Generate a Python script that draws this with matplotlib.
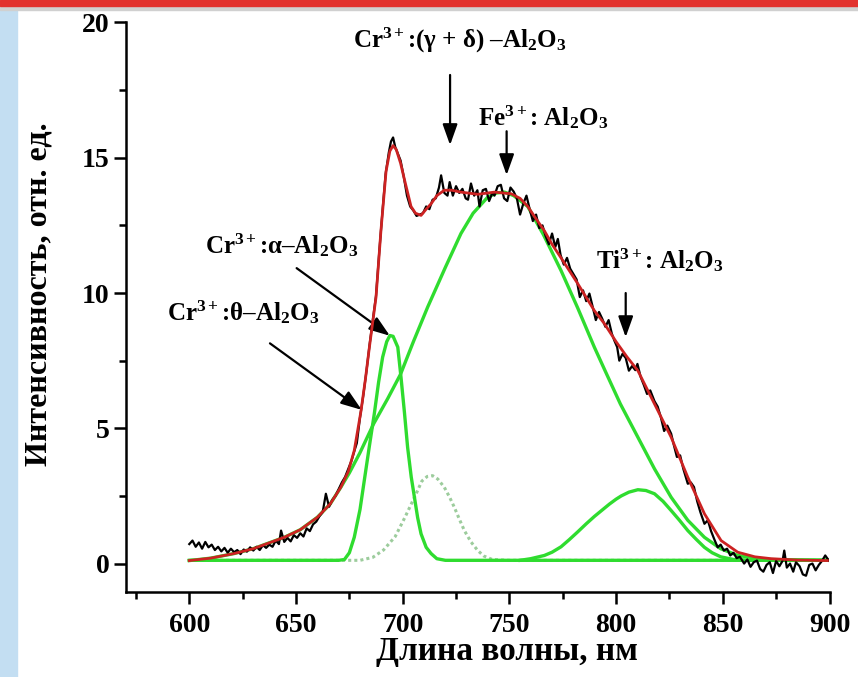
import matplotlib
matplotlib.use("Agg")
import matplotlib.pyplot as plt
from matplotlib.patches import Rectangle
from matplotlib.ticker import MultipleLocator

plt.rcParams['font.family'] = ['Liberation Serif', 'DejaVu Serif']
plt.rcParams['font.weight'] = 'bold'
plt.rcParams['mathtext.fontset'] = 'custom'
plt.rcParams['mathtext.rm'] = 'Liberation Serif:bold'
plt.rcParams['mathtext.bf'] = 'Liberation Serif:bold'
plt.rcParams['mathtext.it'] = 'Liberation Serif:bold:italic'
plt.rcParams['mathtext.default'] = 'rm'

# measured spectrum (noisy)
wl_exp = [600, 601.5, 603, 604.5, 606, 607.5, 609, 610.5, 612, 613.5, 615, 616.5, 618, 619.5,
          621, 622.5, 624, 625.5, 627, 628.5, 630, 631.5, 633, 634.5, 636, 637.5, 639, 640.5,
          642, 643, 644.5, 646, 647.5, 649, 650.5, 652, 653.5, 655, 656.5, 658, 659.5, 661,
          662.5, 664, 665.5, 667, 668.5, 670, 671.5, 673, 674.5, 676, 677.5, 678.5, 680, 681.5,
          683, 684.5, 686, 687.5, 689, 690.5, 692, 693.5, 694.5, 695.5, 696.5, 697.5, 699,
          700.5, 702, 703.5, 705, 706.5, 708, 709.5, 711, 712.5, 714, 715.5, 717, 718, 719.5,
          721, 722, 723.5, 725, 726.5, 728, 729.5, 730.6, 732, 733.5, 735, 736, 737.5, 739,
          740.5, 742, 743, 744.5, 746, 747.5, 749, 750.5, 752, 753.5, 755, 756.5, 758, 759.5,
          761, 762.5, 764, 765.5, 767, 768.5, 770, 771.5, 772.7, 774, 775.5, 777, 778.5, 780,
          781.5, 783, 784.5, 786, 787.5, 789, 790.5, 792, 793.5, 795, 796.5, 798, 799.2, 800.5,
          801.5, 803, 804.5, 806, 807.5, 809, 810, 811.5, 813, 814.5, 816, 818, 819.5, 821,
          822.5, 824, 825.8, 827, 828.5, 830, 831.5, 833.6, 835, 836.5, 838, 839.5, 841.4, 843,
          844.5, 846, 847.6, 849, 850.5, 852, 853.5, 855, 856.5, 858, 860, 861.5, 863, 864.5,
          866, 867.5, 869, 870.5, 872, 873.5, 875, 876.5, 878, 878.8, 880, 881.5, 883, 884.3,
          886, 887.5, 889, 890.5, 892, 893.5, 895, 896.5, 898, 899.7]
int_exp = [0.72, 0.85, 0.62, 0.78, 0.55, 0.8, 0.6, 0.7, 0.5, 0.62, 0.45, 0.58, 0.4, 0.55,
           0.42, 0.5, 0.35, 0.52, 0.44, 0.6, 0.48, 0.62, 0.5, 0.68, 0.58, 0.7, 0.62, 0.85,
           0.72, 1.22, 0.8, 0.95, 0.82, 1.05, 0.95, 1.12, 1.0, 1.3, 1.2, 1.45, 1.55, 1.75,
           1.9, 2.58, 2.1, 2.35, 2.5, 2.75, 3.0, 3.2, 3.5, 3.8, 4.2, 4.45, 5.4, 6.2,
           7.1, 8.1, 9.0, 9.9, 11.5, 13.0, 14.4, 15.2, 15.6, 15.75, 15.4, 15.2, 14.9,
           14.3, 13.6, 13.2, 13.05, 12.85, 12.9, 12.95, 13.2, 13.1, 13.45, 13.5, 13.9, 14.35, 13.7,
           13.6, 14.1, 13.6, 13.95, 13.7, 13.85, 13.5, 13.45, 14.05, 13.6, 13.8, 13.2, 13.8, 13.85,
           13.4, 13.7, 13.6, 13.95, 14.0, 13.5, 13.4, 13.9, 13.75, 13.5, 12.9, 13.3, 13.6, 13.1,
           12.66, 12.9, 12.4, 12.5, 12.1, 11.8, 12.2, 11.7, 12.0, 11.4, 11.05, 11.3, 10.9, 10.7,
           10.5, 9.85, 10.1, 9.7, 9.98, 9.5, 9.0, 9.3, 9.05, 8.75, 9.0, 8.5, 8.24, 8.0,
           7.5, 7.75, 7.6, 7.13, 7.3, 7.15, 7.38, 6.9, 6.6, 6.27, 6.4, 6.0, 5.8, 5.4,
           4.9, 5.1, 4.8, 4.4, 3.94, 4.0, 3.5, 2.95, 3.0, 2.83, 2.3, 1.9, 1.47, 1.6,
           1.2, 0.9, 0.6, 0.7, 0.48, 0.55, 0.3, 0.4, 0.2, 0.25, 0.0, 0.15, -0.12, 0.05,
           0.11, -0.2, -0.3, -0.05, 0.05, -0.35, 0.1, -0.1, 0.1, 0.48, -0.15, 0.0, -0.3, 0.05,
           -0.1, -0.4, -0.45, -0.05, 0.0, -0.25, -0.05, 0.1, 0.3, 0.11]

# total fit (red)
wl_fit = [600, 610, 621, 630, 644.5, 652, 660, 666, 671, 674.5, 677.3, 680.5, 682.5, 684.4,
          687.5, 689.8, 692.2, 694, 695.5, 697, 699, 700.8, 703.9, 706, 708.6, 711, 713.3,
          716, 719.5, 723, 727.3, 735.2, 743, 750.8, 755, 758.6, 762, 766.4, 770, 774.2, 782,
          789.8, 794.5, 800, 805, 810.2, 818, 825.8, 833.6, 841.4, 849.2, 857, 865, 872.7,
          885, 899]
int_fit = [0.11, 0.2, 0.37, 0.55, 0.97, 1.25, 1.71, 2.2, 2.82, 3.4, 4.18, 5.66, 6.8, 8.0,
           9.85, 12.3, 14.5, 15.25, 15.45, 15.3, 14.8, 14.2, 13.2, 12.95, 12.87, 13.1, 13.3,
           13.6, 13.8, 13.8, 13.73, 13.65, 13.73, 13.67, 13.5, 13.2, 12.8, 12.3, 11.8, 11.3, 10.35,
           9.35, 8.87, 8.2, 7.65, 7.13, 5.9, 4.67, 3.19, 1.84, 0.85, 0.42, 0.25, 0.18,
           0.13, 0.11]

# Fe3+ broad band
wl_fe = [600, 610, 621, 630, 644.5, 652, 660, 666, 671, 675, 680, 686.4, 693, 699, 705,
         711.7, 720, 727.3, 733, 739.8, 744, 747.7, 752, 758.6, 766, 774.2, 782, 789.8, 795,
         802, 810.2, 818, 825.8, 833.6, 841.4, 849, 857, 870, 900]
int_fe = [0.11, 0.2, 0.37, 0.55, 0.97, 1.25, 1.71, 2.2, 2.82, 3.35, 4.1, 5.17, 6.1, 7.0, 8.2,
          9.48, 10.95, 12.2, 12.95, 13.54, 13.7, 13.73, 13.6, 13.2, 12.15, 10.83, 9.45, 8.0, 7.1,
          5.9, 4.67, 3.5, 2.45, 1.6, 0.97, 0.55, 0.3, 0.15, 0.12]

# Cr3+ alpha-Al2O3 narrow band
wl_alpha = [600, 670, 672.7, 675, 677.3, 680, 682, 684.5, 686.7, 688.7, 690.6, 692.5, 694,
            695.5, 697.7, 699.2, 700.8, 702.3, 704, 705.5, 707, 708.6, 711, 713.3, 716, 720, 900]
int_alpha = [0.12, 0.12, 0.15, 0.4, 0.97, 2.0, 3.07, 4.4, 5.54, 6.7, 7.63, 8.2, 8.43,
             8.4, 8.0, 6.89, 5.6, 4.3, 3.2, 2.45, 1.7, 1.1, 0.6, 0.37, 0.18, 0.12, 0.12]

# dotted band near 714 nm
wl_dot = [600, 680, 686, 691, 696.5, 701, 706.3, 709, 711.5, 714, 716.5, 719.5, 722, 724.2,
          726.5, 728.9, 732, 735.2, 738, 742, 750, 900]
int_dot = [0.12, 0.12, 0.23, 0.5, 1.0, 1.7, 2.58, 3.05, 3.22, 3.25, 3.12, 2.82, 2.45, 2.08,
           1.65, 1.22, 0.8, 0.48, 0.28, 0.15, 0.12, 0.12]

# Ti3+ band
wl_ti = [755, 760, 766.4, 770, 774.2, 778, 782, 786, 789.8, 793.5, 796.9, 800, 802.4, 806,
         810.2, 814, 818, 822, 825.8, 829.7, 833.6, 837.5, 841.4, 845, 849, 855, 862, 900]
int_ti = [0.12, 0.18, 0.3, 0.42, 0.62, 0.88, 1.17, 1.47, 1.74, 1.98, 2.2, 2.38, 2.5, 2.64,
          2.73, 2.7, 2.58, 2.3, 1.96, 1.6, 1.22, 0.9, 0.6, 0.4, 0.25, 0.15, 0.12, 0.12]

green = '#2fdc2f'

fig = plt.figure(figsize=(8.58, 6.77), dpi=100)
ax = fig.add_axes([125.7 / 858, 1 - 591.7 / 677, (829.5 - 125.7) / 858, (591.7 - 22.5) / 677])

# frame decorations of the source picture
fig.patches.append(Rectangle((0, 0), 17 / 858, 1, transform=fig.transFigure,
                             color='#c3def2', zorder=0))
fig.patches.append(Rectangle((0, 1 - 10 / 677), 1, 4 / 677, transform=fig.transFigure,
                             color='#d0d0d0', zorder=1))
fig.patches.append(Rectangle((0, 1 - 6 / 677), 1, 6 / 677, transform=fig.transFigure,
                             color='#e2312d', zorder=2))

ax.plot(wl_dot, int_dot, color='#9ccc9c', lw=2.2, ls=(0, (1, 1)), zorder=2)
ax.plot(wl_ti, int_ti, color=green, lw=2.4, zorder=2)
ax.plot(wl_alpha, int_alpha, color=green, lw=2.4, zorder=2)
ax.plot(wl_fe, int_fe, color=green, lw=2.4, zorder=2)
ax.plot(wl_exp, int_exp, color='black', lw=1.6, zorder=3)
ax.plot(wl_fit, int_fit, color='#cc2222', lw=2.0, zorder=4)

ax.set_xlim(570.2, 900)
ax.set_ylim(-1.04, 20)
ax.spines['top'].set_visible(False)
ax.spines['right'].set_visible(False)
for s in ('left', 'bottom'):
    ax.spines[s].set_linewidth(1.8)
ax.set_xticks([600, 650, 700, 750, 800, 850, 900])
ax.set_yticks([0, 5, 10, 15, 20])
ax.xaxis.set_minor_locator(MultipleLocator(25))
ax.yaxis.set_minor_locator(MultipleLocator(2.5))
ax.tick_params(which='major', direction='out', length=8.5, width=1.8, labelsize=20)
ax.tick_params(axis='x', which='major', pad=7)
ax.tick_params(axis='y', which='major', pad=3)
ax.tick_params(which='minor', direction='out', length=5, width=1.8)

ax.set_xlabel('Длина волны, нм', fontsize=24, fontweight='bold')
ax.xaxis.set_label_coords(0.542, -0.078)
ax.set_ylabel('Интенсивность, отн. ед.', fontsize=23, fontweight='bold')
ax.yaxis.set_label_coords(-0.102, 0.523)

arrow = dict(arrowstyle='-|>,head_length=0.7,head_width=0.25', color='black', lw=1.6,
             shrinkA=0, shrinkB=0, mutation_scale=18)
fs = 18
ax.text(676.7, 19.06, r'Cr$^{3+}$:(γ + δ) –Al$_2$O$_3$', fontsize=fs, ha='left', va='baseline')
ax.annotate('', xy=(722.2, 15.47), xytext=(722.2, 18.06), arrowprops=arrow)
ax.text(735.3, 16.2, r'Fe$^{3+}$: Al$_2$O$_3$', fontsize=fs, ha='left', va='baseline')
ax.annotate('', xy=(748.7, 14.36), xytext=(748.7, 15.98), arrowprops=arrow)
ax.text(790.6, 10.92, r'Ti$^{3+}$: Al$_2$O$_3$', fontsize=fs, ha='left', va='baseline')
ax.annotate('', xy=(804.5, 8.37), xytext=(804.5, 10.0), arrowprops=arrow)
ax.text(607.4, 11.48, r'Cr$^{3+}$:α–Al$_2$O$_3$', fontsize=fs, ha='left', va='baseline')
ax.annotate('', xy=(694.0, 8.42), xytext=(650.3, 10.92), arrowprops=arrow)
ax.text(589.5, 8.97, r'Cr$^{3+}$:θ–Al$_2$O$_3$', fontsize=fs, ha='left', va='baseline')
ax.annotate('', xy=(680.8, 5.68), xytext=(637.8, 8.14), arrowprops=arrow)

fig.savefig('out.png', dpi=100)
